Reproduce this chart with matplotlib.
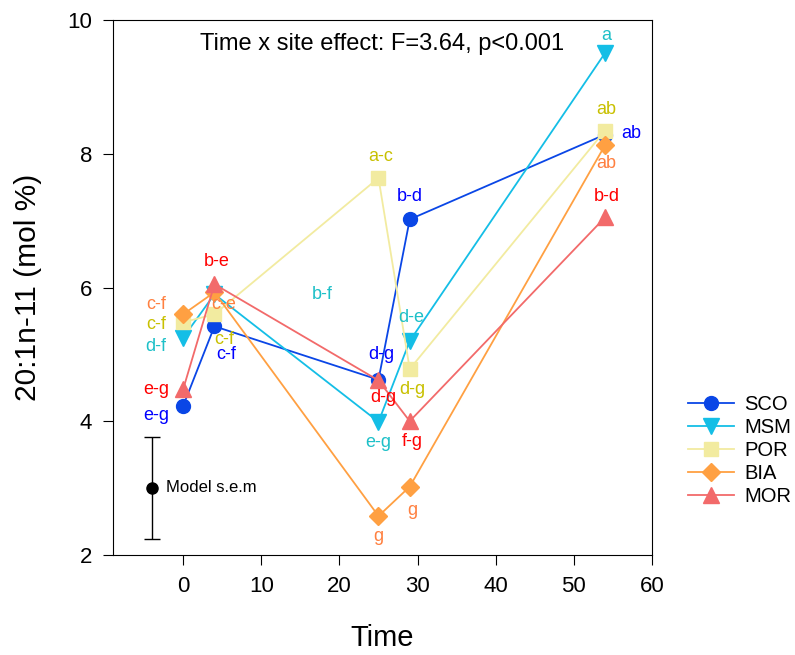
import matplotlib
matplotlib.use("Agg")
import matplotlib.pyplot as plt

plt.rcParams["font.family"] = ["Liberation Sans", "DejaVu Sans"]

# data
time = [0, 4, 25, 29, 54]
SERIES = ["SCO", "MSM", "POR", "BIA", "MOR"]
sco = [4.23, 5.42, 4.62, 7.02, 8.29]
msm = [5.25, 5.90, 3.99, 5.20, 9.51]
por = [5.48, 5.60, 7.64, 4.78, 8.35]
bia = [5.60, 5.93, 2.58, 3.02, 8.13]
mor = [4.48, 6.05, 4.61, 4.00, 7.05]

sco_lbl = ["e-g", "c-f", "d-g", "b-d", "ab"]
msm_lbl = ["d-f", "b-f", "e-g", "d-e", "a"]
por_lbl = ["c-f", "c-f", "a-c", "d-g", "ab"]
bia_lbl = ["c-f", "c-e", "g", "g", "ab"]
mor_lbl = ["e-g", "b-e", "d-g", "f-g", "b-d"]

sem_x, sem_y, sem_err = -4, 3.0, 0.77

LINE_COLORS = ["#0A46E6", "#14BEE6", "#F2EBA0", "#FFA042", "#F26A6A"]
TEXT_COLORS = ["#0000FF", "#1EC0C8", "#C8C000", "#FF8040", "#FF0000"]
MARKERS = ["o", "v", "s", "D", "^"]
SIZES = [10, 11, 10, 9, 11]

# label offsets (dx in time units, dy in mol %) per series per point
OFFSETS = [
    [(-3.5, -0.14), (1.5, -0.42), (0.4, 0.38), (0, 0.34), (3.4, 0.02)],
    [(-3.5, -0.13), (13.8, 0.0), (0, -0.31), (0.2, 0.35), (0.2, 0.27)],
    [(-3.5, -0.03), (1.2, -0.38), (0.3, 0.32), (0.3, -0.3), (0.2, 0.31)],
    [(-3.5, 0.15), (1.2, -0.18), (0, -0.31), (0.3, -0.36), (0.2, -0.28)],
    [(-3.5, 0.0), (0.3, 0.34), (0.6, -0.25), (0.3, -0.3), (0.2, 0.31)],
]

fig = plt.figure(figsize=(7.95, 6.55), dpi=100)
ax = fig.add_axes([0.142, 0.153, 0.678, 0.816])

values = [sco, msm, por, bia, mor]
labels = [sco_lbl, msm_lbl, por_lbl, bia_lbl, mor_lbl]
for i, name in enumerate(SERIES):
    ax.plot(time, values[i], color=LINE_COLORS[i], marker=MARKERS[i],
            markersize=SIZES[i], linewidth=1.3, label=name)
    for j, t in enumerate(time):
        dx, dy = OFFSETS[i][j]
        ax.text(t + dx, values[i][j] + dy, labels[i][j], color=TEXT_COLORS[i],
                fontsize=13, ha="center", va="center")

ax.errorbar([sem_x], [sem_y], yerr=[sem_err], fmt="o", color="black",
            markersize=8, capsize=6, elinewidth=1)
ax.text(sem_x + 1.8, sem_y, "Model s.e.m", fontsize=12, va="center")

ax.text(0.5, 0.955, "Time x site effect: F=3.64, p<0.001", transform=ax.transAxes,
        fontsize=17, ha="center", va="center")

ax.set_xlim(-9, 60)
ax.set_ylim(2, 10)
ax.set_xticks([0, 10, 20, 30, 40, 50, 60])
ax.set_yticks([2, 4, 6, 8, 10])
ax.tick_params(labelsize=16, direction="out", length=7, pad=8)
ax.set_xlabel("Time", fontsize=21, labelpad=20)
ax.set_ylabel("20:1n-11 (mol %)", fontsize=21.5, labelpad=18)

ax.legend(loc="center left", bbox_to_anchor=(1.0, 0.195), frameon=False,
          fontsize=14.5, handlelength=2.3, labelspacing=0.2, handletextpad=0.5,
          borderaxespad=1.4)

fig.savefig("out.png", dpi=100)
